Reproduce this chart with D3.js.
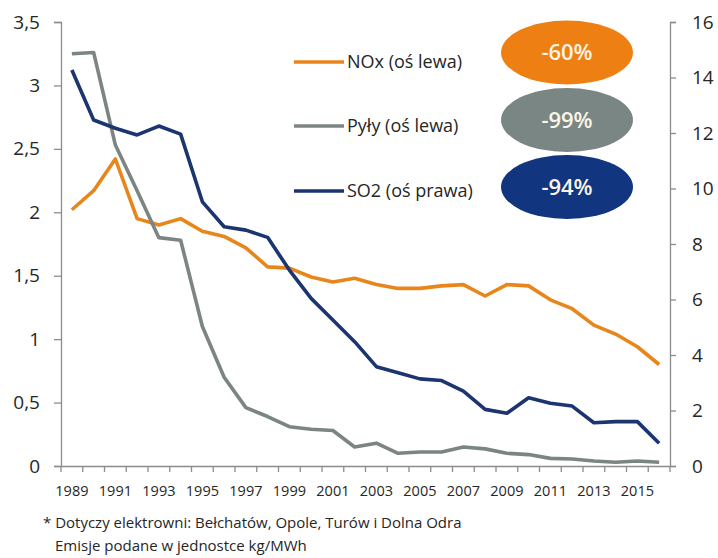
<!DOCTYPE html>
<html>
<head>
<meta charset="utf-8">
<script src="https://cdn.jsdelivr.net/npm/d3@7"></script>
<style>
  body { margin: 0; background: #fff; }
  text { font-family: "Open Sans", sans-serif; fill: #262626; }
</style>
</head>
<body>
<div id="chart"></div>
<script>
const years = [1989, 1990, 1991, 1992, 1993, 1994, 1995, 1996, 1997, 1998, 1999, 2000, 2001, 2002,
               2003, 2004, 2005, 2006, 2007, 2008, 2009, 2010, 2011, 2012, 2013, 2014, 2015, 2016];
const nox = [2.02, 2.17, 2.42, 1.95, 1.90, 1.95, 1.85, 1.81, 1.72, 1.57, 1.56, 1.49, 1.45, 1.48,
             1.43, 1.40, 1.40, 1.42, 1.43, 1.34, 1.43, 1.42, 1.31, 1.24, 1.11, 1.04, 0.94, 0.80];
const pyly = [3.25, 3.26, 2.53, 2.17, 1.80, 1.78, 1.10, 0.70, 0.46, 0.39, 0.31, 0.29, 0.28, 0.15,
              0.18, 0.10, 0.11, 0.11, 0.15, 0.135, 0.10, 0.09, 0.06, 0.055, 0.04, 0.03, 0.04, 0.03];
const so2 = [14.27, 12.47, 12.17, 11.93, 12.25, 11.96, 9.52, 8.62, 8.50, 8.24, 7.06, 6.04, 5.26, 4.48,
             3.58, 3.36, 3.14, 3.08, 2.70, 2.04, 1.90, 2.46, 2.26, 2.16, 1.56, 1.60, 1.60, 0.82];
const leftTicks = [0, 0.5, 1, 1.5, 2, 2.5, 3, 3.5];
const rightTicks = [0, 2, 4, 6, 8, 10, 12, 14, 16];
const yearLabels = [1989, 1991, 1993, 1995, 1997, 1999, 2001, 2003, 2005, 2007, 2009, 2011, 2013, 2015];
const seriesNames = ["NOx (oś lewa)", "Pyły (oś lewa)", "SO2 (oś prawa)"];
const changes = ["-60%", "-99%", "-94%"];
const footnotes = ["* Dotyczy elektrowni: Bełchatów, Opole, Turów i Dolna Odra",
                   "Emisje podane w jednostce kg/MWh"];

const colors = ["#e8861b", "#7b8582", "#1c3570"];
const badgeColors = ["#ee8013", "#7a8683", "#11367f"];

const W = 718, H = 558;
const plot = {left: 61, right: 670, top: 22, bottom: 466};

const svg = d3.select("#chart").append("svg").attr("width", W).attr("height", H);

const x = d3.scaleBand().domain(years).range([plot.left, plot.right]);
const yL = d3.scaleLinear().domain([0, 3.5]).range([plot.bottom, plot.top]);
const yR = d3.scaleLinear().domain([0, 16]).range([plot.bottom, plot.top]);

const axisColor = "#8c8c8c";

// left axis
const gl = svg.append("g").attr("transform", `translate(${plot.left},0)`)
  .call(d3.axisLeft(yL).tickValues(leftTicks).tickSize(7).tickPadding(14)
    .tickFormat(d => String(d).replace(".", ",")));
// right axis
const gr = svg.append("g").attr("transform", `translate(${plot.right},0)`)
  .call(d3.axisRight(yR).tickValues(rightTicks).tickSize(6).tickPadding(16));
// bottom axis, labels only; ticks drawn on band edges below
const gb = svg.append("g").attr("transform", `translate(0,${plot.bottom})`)
  .call(d3.axisBottom(x).tickValues(yearLabels).tickSize(0).tickPadding(20));

[gl, gr, gb].forEach(g => {
  g.select(".domain").attr("stroke", axisColor).attr("stroke-width", 1.3);
  g.selectAll(".tick line").attr("stroke", axisColor).attr("stroke-width", 1.3);
  g.selectAll("text").style("font-family", '"Open Sans", sans-serif').attr("fill", "#262626");
});
gl.selectAll("text").style("font-size", "19px");
gr.selectAll("text").style("font-size", "19px");
gb.selectAll("text").style("font-size", "14.5px");

svg.append("g").selectAll("line")
  .data(years.concat(["end"]))
  .enter().append("line")
  .attr("x1", (d, i) => plot.left + i * x.bandwidth())
  .attr("x2", (d, i) => plot.left + i * x.bandwidth())
  .attr("y1", plot.bottom).attr("y2", plot.bottom + 6)
  .attr("stroke", axisColor).attr("stroke-width", 1.3);

// lines
const series = [
  {vals: nox, y: yL},
  {vals: pyly, y: yL},
  {vals: so2, y: yR}
];
series.forEach((s, k) => {
  const line = d3.line()
    .x((d, i) => x(years[i]) + x.bandwidth() / 2)
    .y(d => s.y(d));
  svg.append("path")
    .datum(s.vals)
    .attr("d", line)
    .attr("fill", "none")
    .attr("stroke", colors[k])
    .attr("stroke-width", 3.6)
    .attr("stroke-linejoin", "round");
});

// legend
const legY = [62, 126, 191];
const leg = svg.append("g");
seriesNames.forEach((n, k) => {
  leg.append("line").attr("x1", 294).attr("x2", 344)
    .attr("y1", legY[k]).attr("y2", legY[k])
    .attr("stroke", colors[k]).attr("stroke-width", 3.6);
  leg.append("text").attr("x", 347).attr("y", legY[k])
    .attr("dy", "0.35em").style("font-size", "18px").text(n);
});

// badges
const badgeY = [52.5, 120, 187];
seriesNames.forEach((n, k) => {
  svg.append("ellipse").attr("cx", 567).attr("cy", badgeY[k])
    .attr("rx", 66).attr("ry", 32).attr("fill", badgeColors[k]);
  svg.append("text").attr("x", 567).attr("y", badgeY[k]).attr("dy", "0.35em")
    .attr("text-anchor", "middle")
    .style("font-size", "22px").style("font-weight", 600)
    .style("fill", "#fbf5e6").text(changes[k]);
});

// footnote
svg.append("text").attr("x", 43).attr("y", 528).style("font-size", "15px").text(footnotes[0]);
svg.append("text").attr("x", 55).attr("y", 551).style("font-size", "15px").text(footnotes[1]);
</script>
</body>
</html>
